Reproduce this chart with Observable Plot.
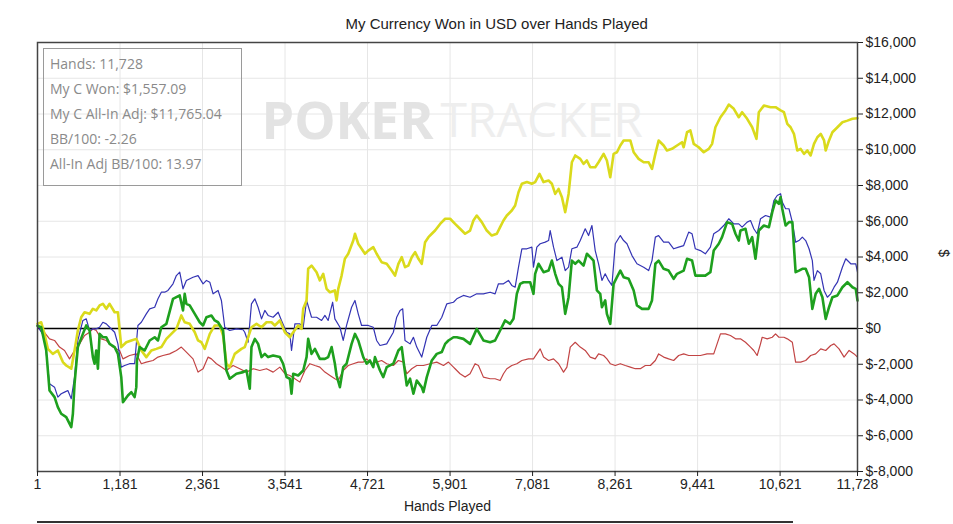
<!DOCTYPE html>
<html>
<head>
<meta charset="utf-8">
<script src="https://cdn.jsdelivr.net/npm/d3@7"></script>
<script src="https://cdn.jsdelivr.net/npm/@observablehq/plot@0.6"></script>
<style>
  html, body { margin: 0; padding: 0; background: #fff; }
  #wrap { position: relative; width: 953px; height: 524px; overflow: hidden; }
  #legend { position: absolute; left: 43px; top: 48px; width: 197px; height: 136px;
    border: 1px solid #9a9a9a; font-family: "Open Sans", "Noto Sans", sans-serif; font-size: 14px; color: #8a8a8a; }
  #legend div { position: absolute; left: 6px; white-space: nowrap; }
  #scroll { position: absolute; left: 37px; top: 521px; width: 756px; height: 2px; background: #333; }
</style>
</head>
<body>
<div id="wrap"></div>
<script>
const title = "My Currency Won in USD over Hands Played";
const xLabel = "Hands Played";
const yLabel = "$";
const xTicks = [1, 1181, 2361, 3541, 4721, 5901, 7081, 8261, 9441, 10621, 11728];
const yTicks = [-8000, -6000, -4000, -2000, 0, 2000, 4000, 6000, 8000, 10000, 12000, 14000, 16000];
const statLines = ["Hands: 11,728", "My C Won: $1,557.09", "My C All-In Adj: $11,765.04", "BB/100: -2.26", "All-In Adj BB/100: 13.97"];

// [hand, dollars]
const myCWon = [[1,150],[54,70],[126,-1230],[173,-3470],[245,-3840],[292,-4400],[340,-4770],[412,-4960],[484,-5520],[507,-4770],[531,-3090],[578,-1040],[650,-300],[698,170],[746,-110],[793,-1600],[817,-1970],[841,-1230],[865,-2250],[889,-300],[936,-490],[985,-490],[1032,-860],[1104,-1040],[1151,-1420],[1199,-2720],[1223,-4120],[1294,-3750],[1343,-3560],[1390,-3840],[1414,-3280],[1423,-1790],[1462,-1040],[1533,-1230],[1605,-670],[1677,-490],[1724,-670],[1772,70],[1844,260],[1939,1660],[2035,1850],[2082,1010],[2106,1940],[2130,1380],[2178,1290],[2250,820],[2321,350],[2369,170],[2417,630],[2488,730],[2536,450],[2583,350],[2655,-110],[2703,-2350],[2750,-2810],[2846,-2530],[2941,-2440],[2990,-2350],[3037,-3370],[3061,-1040],[3109,-580],[3156,-860],[3205,-1600],[3252,-1420],[3299,-1600],[3371,-1510],[3467,-1600],[3514,-1970],[3563,-2720],[3610,-2810],[3634,-3650],[3658,-2530],[3729,-2630],[3801,-2350],[3849,-1600],[3872,-580],[3920,-1420],[3968,-1140],[4039,-1700],[4111,-1700],[4158,-1600],[4207,-1040],[4254,-1970],[4278,-2630],[4326,-3280],[4373,-2160],[4421,-1970],[4493,-860],[4541,-300],[4588,-670],[4660,-1600],[4708,-1970],[4755,-1790],[4803,-2160],[4827,-1600],[4899,-2350],[4946,-2720],[4995,-2160],[5090,-1970],[5162,-1230],[5210,-1040],[5234,-1790],[5282,-3190],[5329,-2810],[5377,-3650],[5425,-2910],[5496,-3280],[5520,-3560],[5568,-2720],[5640,-1790],[5711,-1420],[5783,-1320],[5831,-860],[5878,-670],[5950,-490],[5997,-490],[6092,-580],[6187,-860],[6283,-20],[6378,-670],[6474,-770],[6545,-670],[6617,-110],[6689,450],[6760,260],[6808,540],[6856,1940],[6903,2500],[6951,2590],[7047,2590],[7094,1940],[7118,3060],[7166,3620],[7238,3150],[7310,3240],[7357,3800],[7405,3060],[7453,2500],[7501,2310],[7548,820],[7596,1750],[7643,3800],[7691,3620],[7739,3800],[7810,3520],[7858,4180],[7906,3990],[7953,3800],[8001,2130],[8049,1940],[8073,1190],[8120,1570],[8144,820],[8192,260],[8240,2500],[8288,2870],[8336,3240],[8383,2870],[8455,2780],[8527,2130],[8574,1290],[8646,1100],[8741,1100],[8789,1570],[8837,3620],[8884,3800],[8955,3340],[9027,3240],[9099,2780],[9147,3060],[9242,3240],[9290,3900],[9362,3800],[9409,2960],[9481,2960],[9552,2960],[9624,3150],[9672,4360],[9744,4740],[9791,5110],[9863,5950],[9935,5850],[9983,5300],[10030,4920],[10054,5480],[10126,5580],[10174,4740],[10222,5110],[10269,3900],[10317,5480],[10389,5760],[10461,5670],[10509,6510],[10556,7160],[10604,6970],[10628,7350],[10652,6700],[10700,5760],[10748,5950],[10796,5950],[10843,3150],[10891,3240],[10939,3340],[10987,3340],[11035,2870],[11082,1100],[11130,1940],[11178,2220],[11226,1750],[11273,540],[11321,1190],[11369,1750],[11441,1850],[11512,2310],[11584,2590],[11656,2310],[11703,2220],[11728,1557]];

const showdown = [[1,150],[101,-490],[173,-3090],[245,-3280],[292,-3840],[340,-3650],[388,-3560],[435,-3470],[484,-3930],[531,-2720],[578,-670],[650,450],[698,540],[746,-110],[793,-20],[841,-20],[889,70],[936,350],[985,260],[1032,70],[1104,-210],[1151,-860],[1199,-2160],[1247,-2070],[1318,-1970],[1390,-1970],[1437,170],[1486,350],[1557,820],[1605,1100],[1677,1190],[1724,1660],[1772,2030],[1820,2030],[1867,2130],[1939,2500],[1987,2960],[2035,3150],[2082,2220],[2130,2690],[2225,2870],[2297,2960],[2369,2500],[2417,2690],[2465,2590],[2512,1940],[2583,2130],[2631,1570],[2679,70],[2750,-110],[2846,-20],[2941,-70],[2965,-210],[3013,-770],[3061,1380],[3109,1660],[3156,1190],[3205,540],[3252,1010],[3299,730],[3371,630],[3443,910],[3490,450],[3563,-210],[3610,-300],[3634,-1230],[3682,260],[3753,260],[3801,70],[3849,1570],[3920,630],[3992,630],[4064,450],[4111,730],[4158,450],[4222,1470],[4254,540],[4326,70],[4373,-670],[4421,170],[4493,1190],[4541,1570],[4588,820],[4636,170],[4731,170],[4803,70],[4851,-670],[4899,-950],[4995,-860],[5090,-210],[5138,630],[5186,1010],[5224,1100],[5257,-670],[5329,-860],[5377,-490],[5425,-1040],[5496,-1600],[5568,-490],[5640,170],[5711,170],[5783,630],[5855,1380],[5950,1470],[5997,1660],[6092,1850],[6187,1750],[6283,1940],[6378,1940],[6474,2030],[6545,1940],[6593,2500],[6665,2500],[6736,2690],[6784,2410],[6832,2310],[6880,3430],[6928,4460],[7000,4460],[7071,4550],[7094,3430],[7142,4550],[7190,4740],[7262,4830],[7310,4920],[7333,5480],[7381,4550],[7429,3800],[7501,3990],[7548,3240],[7596,3430],[7643,4460],[7715,4550],[7763,4920],[7834,5580],[7882,5200],[7930,5760],[7977,4360],[8025,3620],[8073,2690],[8120,3060],[8168,2690],[8216,2410],[8264,4740],[8336,5200],[8383,4920],[8431,4740],[8503,4080],[8574,3620],[8670,3430],[8741,3240],[8789,3800],[8837,5110],[8884,5200],[8956,4830],[9027,4830],[9099,4460],[9170,4550],[9242,4640],[9314,5390],[9362,5300],[9409,4460],[9481,4360],[9552,4180],[9624,4550],[9672,5300],[9744,5480],[9815,5760],[9887,6140],[9959,5850],[10030,5850],[10078,5670],[10150,5950],[10198,6040],[10245,5580],[10293,5300],[10341,6140],[10413,6320],[10484,6230],[10532,7160],[10580,7440],[10628,7540],[10652,7070],[10700,6700],[10748,6700],[10796,5950],[10843,4830],[10891,4920],[10939,5110],[10987,4920],[11035,4460],[11082,3800],[11106,2690],[11154,3240],[11202,3060],[11250,2130],[11297,1750],[11345,1940],[11393,2310],[11441,2590],[11512,3430],[11560,3900],[11632,3620],[11703,3620],[11728,3150]];

const nonShowdown = [[1,150],[77,-110],[173,-580],[245,-670],[316,-1040],[388,-1230],[459,-1700],[531,-1230],[603,-860],[674,-390],[746,-210],[793,-20],[841,-110],[913,-580],[985,-670],[1080,-1040],[1175,-1230],[1223,-1700],[1318,-1510],[1414,-1420],[1486,-1970],[1557,-1880],[1653,-1790],[1724,-1600],[1796,-1510],[1891,-1420],[1987,-1230],[2058,-1040],[2130,-1320],[2225,-1700],[2297,-2440],[2369,-2250],[2441,-1600],[2488,-1700],[2560,-1970],[2631,-2160],[2703,-2350],[2798,-2070],[2894,-2250],[2990,-2440],[3085,-2250],[3180,-2350],[3276,-2250],[3371,-2440],[3467,-2160],[3539,-2530],[3610,-2630],[3682,-2810],[3753,-3000],[3825,-2350],[3896,-1970],[3968,-2070],[4039,-2160],[4111,-2440],[4183,-2630],[4254,-2810],[4302,-2910],[4373,-2350],[4445,-2070],[4517,-1970],[4588,-1880],[4660,-1880],[4708,-1700],[4779,-1970],[4851,-1880],[4922,-1790],[4995,-1970],[5090,-2070],[5162,-1790],[5234,-1880],[5282,-2530],[5353,-2250],[5425,-2070],[5520,-2070],[5616,-1970],[5711,-1880],[5807,-2070],[5878,-1880],[5950,-2160],[5973,-2250],[6044,-2530],[6116,-2720],[6187,-2530],[6259,-1970],[6307,-2070],[6378,-2720],[6474,-2810],[6545,-2810],[6617,-2910],[6665,-2530],[6713,-2250],[6784,-2070],[6856,-1970],[6928,-1790],[7023,-1700],[7094,-1700],[7142,-1420],[7190,-1140],[7238,-1600],[7310,-1790],[7381,-1700],[7453,-1970],[7524,-2440],[7572,-2160],[7620,-1040],[7691,-770],[7763,-1040],[7834,-1230],[7906,-1600],[7977,-1700],[8025,-1420],[8097,-1510],[8144,-1700],[8192,-1970],[8264,-2070],[8336,-1970],[8407,-2070],[8479,-2160],[8551,-2250],[8622,-2250],[8694,-2070],[8766,-2070],[8837,-1790],[8884,-1420],[8956,-1600],[9027,-1700],[9099,-1790],[9170,-1510],[9242,-1420],[9314,-1510],[9386,-1510],[9481,-1510],[9577,-1420],[9672,-1420],[9720,-860],[9768,-300],[9839,-300],[9911,-390],[9983,-580],[10054,-580],[10126,-770],[10198,-1040],[10245,-1230],[10293,-1510],[10341,-860],[10365,-490],[10437,-580],[10509,-490],[10556,-300],[10604,-490],[10676,-490],[10724,-580],[10796,-770],[10843,-1880],[10915,-1880],[10987,-1790],[11058,-1510],[11130,-1420],[11202,-1140],[11273,-1230],[11345,-950],[11393,-860],[11464,-1140],[11536,-1600],[11608,-1230],[11680,-1420],[11728,-1600]];

const allInAdj = [[1,260],[54,350],[101,-300],[149,-1140],[220,-1420],[292,-1230],[364,-1880],[412,-2070],[484,-2250],[531,-1230],[578,-110],[626,630],[674,910],[746,820],[793,1100],[841,1010],[889,1290],[936,1380],[985,1100],[1032,1380],[1104,910],[1151,910],[1199,-1040],[1271,-770],[1343,-670],[1414,-580],[1486,-1230],[1557,-1600],[1629,-1230],[1701,-1140],[1772,-1040],[1844,-580],[1915,-300],[1987,-20],[2058,730],[2106,350],[2178,260],[2250,-210],[2297,-670],[2345,-770],[2393,-1140],[2465,-300],[2536,170],[2607,170],[2655,-390],[2703,-1970],[2750,-2160],[2822,-1420],[2917,-1140],[2965,-1040],[3013,-490],[3061,70],[3133,260],[3205,70],[3276,350],[3347,350],[3395,170],[3467,450],[3539,-210],[3610,-490],[3658,-210],[3729,170],[3777,-20],[3801,1100],[3849,1570],[3872,3340],[3920,3520],[3992,3150],[4039,2690],[4087,3060],[4135,2220],[4183,2030],[4254,2130],[4278,1570],[4302,2220],[4350,2960],[4397,3900],[4445,4180],[4517,4920],[4541,5300],[4588,4740],[4636,4460],[4684,4180],[4731,4360],[4803,4550],[4851,4180],[4922,3710],[4995,3620],[5066,3240],[5114,2960],[5162,3620],[5210,3990],[5257,3430],[5305,3520],[5353,3990],[5401,4270],[5449,3900],[5496,3620],[5544,4830],[5592,5110],[5640,5300],[5687,5480],[5759,5850],[5831,6140],[5902,6140],[5973,5850],[6044,5580],[6116,5300],[6187,5480],[6235,6040],[6283,6320],[6355,5950],[6426,5480],[6498,5200],[6570,5300],[6617,5670],[6665,6040],[6713,6320],[6784,6600],[6832,6880],[6880,7620],[6928,8100],[7000,8190],[7071,8100],[7118,8190],[7180,8650],[7238,8190],[7310,8280],[7357,8100],[7405,7530],[7453,7810],[7501,7340],[7548,6510],[7596,7530],[7643,9300],[7691,9680],[7763,9490],[7810,9210],[7858,9400],[7906,9020],[7977,9020],[8025,9300],[8097,9770],[8144,9400],[8192,8460],[8240,9770],[8288,9860],[8336,10240],[8383,10520],[8479,10520],[8527,9860],[8598,9490],[8670,9300],[8741,9300],[8789,8930],[8837,9770],[8884,10520],[8956,10240],[9003,9960],[9075,10050],[9147,10240],[9218,10420],[9242,10140],[9290,10980],[9338,11080],[9386,10330],[9457,10140],[9529,9860],[9601,10050],[9649,10330],[9696,11260],[9768,11820],[9839,12200],[9887,12530],[9959,12290],[10030,11820],[10078,12100],[10150,11730],[10222,11260],[10283,10610],[10317,12100],[10389,12470],[10484,12380],[10556,12380],[10628,12200],[10676,12100],[10724,11450],[10771,11260],[10819,10890],[10867,9960],[10915,10050],[10963,9770],[11011,9960],[11058,9680],[11106,10330],[11154,10700],[11202,10890],[11250,10520],[11273,9960],[11321,10520],[11369,10980],[11441,11260],[11512,11540],[11584,11630],[11656,11730],[11728,11765]];

const usd = d => "$" + (d < 0 ? "-" : "") + d3.format(",")(Math.abs(d));

const chart = Plot.plot({
  width: 953,
  height: 524,
  marginTop: 42,
  marginRight: 96,
  marginBottom: 53,
  marginLeft: 37,
  style: { fontFamily: "'Liberation Sans', Arial, sans-serif", fontSize: "14px", color: "#222", background: "#fff" },
  x: { domain: [1, 11728] },
  y: { domain: [-8000, 16000] },
  marks: [
    Plot.gridX(xTicks, { stroke: "#e6e6e6", strokeOpacity: 1 }),
    Plot.gridY(yTicks, { stroke: "#e6e6e6", strokeOpacity: 1 }),
    Plot.text(["POKER"], { frameAnchor: "top-left", dx: 224, dy: 60, textAnchor: "start", fontSize: 52, fontWeight: "bold", fontFamily: "'Open Sans', sans-serif", fill: "#e3e3e3" }),
    Plot.text(["TRACKER"], { frameAnchor: "top-left", dx: 403, dy: 60, textAnchor: "start", fontSize: 48, fontFamily: "'Open Sans', sans-serif", fill: "#eeeeee" }),
    Plot.ruleY([0], { stroke: "#000", strokeWidth: 1.5 }),
    Plot.line(nonShowdown, { x: d => d[0], y: d => d[1], stroke: "#c24444", strokeWidth: 1.2 }),
    Plot.line(showdown, { x: d => d[0], y: d => d[1], stroke: "#3434b4", strokeWidth: 1.2 }),
    Plot.line(allInAdj, { x: d => d[0], y: d => d[1], stroke: "#dada1c", strokeWidth: 2.6 }),
    Plot.line(myCWon, { x: d => d[0], y: d => d[1], stroke: "#1ea01e", strokeWidth: 2.6 }),
    Plot.frame({ stroke: "#444", strokeWidth: 1.5 }),
    Plot.axisX({ ticks: xTicks, tickFormat: d3.format(","), tickSize: 5, tickPadding: 3, label: null, fontSize: 14 }),
    Plot.axisY({ anchor: "right", ticks: yTicks, tickFormat: usd, tickSize: 5, tickPadding: 3, label: null, fontSize: 14 }),
    Plot.text([xLabel], { frameAnchor: "bottom", dy: 39, fontSize: 14 }),
    Plot.text([yLabel], { frameAnchor: "right", dx: 86, rotate: 90, fontSize: 14 }),
    Plot.text([title], { frameAnchor: "top-left", dx: 308, dy: -24, textAnchor: "start", fontSize: 15 })
  ]
});

const wrap = document.getElementById("wrap");
wrap.appendChild(chart);
const legend = document.createElement("div");
legend.id = "legend";
statLines.forEach((t, i) => {
  const d = document.createElement("div");
  d.textContent = t;
  d.style.top = (5 + i * 25) + "px";
  legend.appendChild(d);
});
wrap.appendChild(legend);
const sc = document.createElement("div");
sc.id = "scroll";
wrap.appendChild(sc);
</script>
</body>
</html>
